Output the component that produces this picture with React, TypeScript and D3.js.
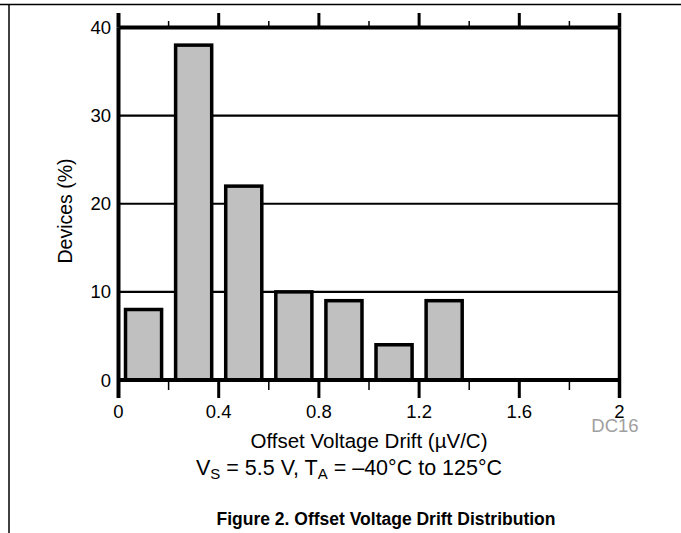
import React from "react";
import * as d3 from "d3";

const binStarts = [0, 0.2, 0.4, 0.6, 0.8, 1.0, 1.2, 1.4, 1.6, 1.8];
const devicesPct = [8, 38, 22, 10, 9, 4, 9, 0, 0, 0];
const xMajorTicks = [0, 0.4, 0.8, 1.2, 1.6, 2];
const xTickLabels = ["0", "0.4", "0.8", "1.2", "1.6", "2"];
const xMinorTicks = [0.2, 0.6, 1.0, 1.4, 1.8];
const yTicks = [0, 10, 20, 30, 40];
const yGrid = [10, 20, 30];

const W = 681;
const H = 533;
const FONT = "'Liberation Sans', Arial, Helvetica, sans-serif";

export default function App() {
  const x = d3.scaleLinear().domain([0, 2]).range([118.5, 619.5]);
  const y = d3.scaleLinear().domain([0, 40]).range([380, 27.5]);
  const [x0, x1] = x.range();
  const yb = y(0);
  const yt = y(40);
  const barPad = 0.028;

  return (
    <svg
      width={W}
      height={H}
      style={{ position: "absolute", left: 0, top: 0, background: "#fff" }}
      fontFamily={FONT}
    >
      {/* page frame */}
      <line x1={0} x2={W} y1={4.5} y2={4.5} stroke="#000" strokeWidth={1.5} />
      <line x1={9} x2={9} y1={4} y2={H} stroke="#000" strokeWidth={1.5} />

      {/* gridlines */}
      {yGrid.map((v) => (
        <line key={v} x1={x0} x2={x1} y1={y(v)} y2={y(v)} stroke="#000" strokeWidth={2.2} />
      ))}

      {/* bars */}
      {binStarts.map((b, i) =>
        devicesPct[i] > 0 ? (
          <rect
            key={b}
            x={x(b + barPad)}
            y={y(devicesPct[i])}
            width={x(b + 0.2 - barPad) - x(b + barPad)}
            height={yb - y(devicesPct[i])}
            fill="#c0c0c0"
            stroke="#000"
            strokeWidth={3.5}
          />
        ) : null
      )}

      {/* frame of plot */}
      <line x1={x0} x2={x1} y1={yt} y2={yt} stroke="#000" strokeWidth={4} />
      <line x1={x0 - 1} x2={x1 + 1} y1={yb} y2={yb} stroke="#000" strokeWidth={4} />
      <line x1={x0} x2={x0} y1={yt} y2={yb} stroke="#000" strokeWidth={4} />
      <line x1={x1} x2={x1} y1={yt} y2={yb} stroke="#000" strokeWidth={3.5} />

      {/* top ticks */}
      {xMajorTicks.map((t) => (
        <line key={"tm" + t} x1={x(t)} x2={x(t)} y1={yt} y2={13} stroke="#000" strokeWidth={t === 0 ? 4 : t === 2 ? 3.5 : 3} />
      ))}
      {xMinorTicks.map((t) => (
        <line key={"tn" + t} x1={x(t)} x2={x(t)} y1={yt} y2={21} stroke="#000" strokeWidth={1.5} />
      ))}
      {/* bottom ticks */}
      {xMajorTicks.map((t) => (
        <line key={"bm" + t} x1={x(t)} x2={x(t)} y1={yb} y2={398} stroke="#000" strokeWidth={t === 0 ? 4 : t === 2 ? 3.5 : 3} />
      ))}
      {xMinorTicks.map((t) => (
        <line key={"bn" + t} x1={x(t)} x2={x(t)} y1={yb} y2={390} stroke="#000" strokeWidth={1.5} />
      ))}

      {/* x tick labels */}
      {xMajorTicks.map((t, i) => (
        <text key={"xl" + t} x={x(t)} y={418} textAnchor="middle" fontSize={18.5} fill="#000">
          {xTickLabels[i]}
        </text>
      ))}
      {/* y tick labels */}
      {yTicks.map((v) => (
        <text key={"yl" + v} x={111} y={y(v) + 6.5} textAnchor="end" fontSize={18.5} fill="#000">
          {v}
        </text>
      ))}

      {/* DC16 */}
      <text x={615} y={432} textAnchor="middle" fontSize={18.5} fill="#a0a0a0">
        DC16
      </text>

      {/* axis titles */}
      <text x={(x0 + x1) / 2} y={448} textAnchor="middle" fontSize={20.5} fill="#000">
        Offset Voltage Drift (µV/C)
      </text>
      <text
        transform={`translate(72, 211) rotate(-90)`}
        textAnchor="middle"
        fontSize={19.5}
        fill="#000"
      >
        Devices (%)
      </text>

      {/* conditions */}
      <text x={349} y={475} textAnchor="middle" fontSize={21.5} fill="#000">
        <tspan>V</tspan>
        <tspan fontSize={15} dy={4}>S</tspan>
        <tspan dy={-4}> = 5.5 V, T</tspan>
        <tspan fontSize={15} dy={4}>A</tspan>
        <tspan dy={-4}> = –40°C to 125°C</tspan>
      </text>

      {/* figure title */}
      <text x={386} y={525} textAnchor="middle" fontSize={17.5} fontWeight="bold" fill="#000">
        Figure 2. Offset Voltage Drift Distribution
      </text>
    </svg>
  );
}
